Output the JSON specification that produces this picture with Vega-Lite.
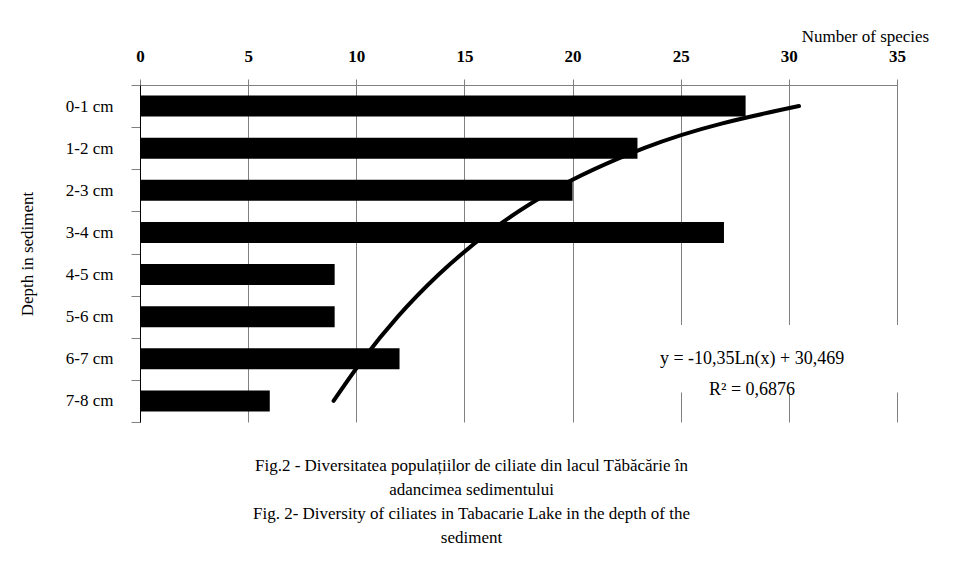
{
  "$schema": "https://vega.github.io/schema/vega-lite/v6.json",
  "width": 757,
  "height": 337,
  "autosize": {"type": "none"},
  "padding": {"left": 140, "top": 85, "right": 62, "bottom": 139},
  "background": "white",
  "config": {"view": {"stroke": null}, "font": "Liberation Serif"},
  "title": {
    "text": [
      "Fig.2 - Diversitatea populațiilor de ciliate din lacul Tăbăcărie în",
      "adancimea sedimentului",
      "Fig. 2- Diversity of ciliates in Tabacarie Lake in the depth of the",
      "sediment"
    ],
    "orient": "bottom",
    "anchor": "middle",
    "dx": -47,
    "offset": 35,
    "font": "Liberation Serif",
    "fontSize": 17,
    "fontWeight": "normal",
    "lineHeight": 24,
    "color": "black"
  },
  "data": {
    "values": [
      {"depth": "0-1 cm", "species": 28, "trend": 30.47},
      {"depth": "1-2 cm", "species": 23, "trend": 23.3},
      {"depth": "2-3 cm", "species": 20, "trend": 19.1},
      {"depth": "3-4 cm", "species": 27, "trend": 16.12},
      {"depth": "4-5 cm", "species": 9, "trend": 13.81},
      {"depth": "5-6 cm", "species": 9, "trend": 11.92},
      {"depth": "6-7 cm", "species": 12, "trend": 10.33},
      {"depth": "7-8 cm", "species": 6, "trend": 8.95}
    ]
  },
  "encoding": {
    "y": {
      "field": "depth",
      "type": "nominal",
      "sort": null,
      "scale": {"paddingInner": 0, "paddingOuter": 0},
      "axis": {
        "tickBand": "extent",
        "tickSize": 9,
        "tickColor": "#808080",
        "domainColor": "black",
        "grid": false,
        "labelFont": "Liberation Serif",
        "labelFontSize": 17,
        "labelPadding": 18,
        "labelColor": "black",
        "title": "Depth in sediment",
        "titleFont": "Liberation Serif",
        "titleX": -113,
        "titleY": 168.5,
        "titleAngle": -90,
        "titleAlign": "center",
        "titleBaseline": "middle",
        "titleFontWeight": "normal",
        "titleFontSize": 17,
        "titleColor": "black"
      }
    }
  },
  "layer": [
    {
      "mark": {"type": "bar", "fill": "black", "height": {"band": 0.5}},
      "encoding": {
        "x": {
          "field": "species",
          "type": "quantitative",
          "scale": {"domain": [0, 35], "nice": false},
          "axis": {
            "orient": "top",
            "values": [0, 5, 10, 15, 20, 25, 30, 35],
            "grid": true,
            "gridColor": "#808080",
            "gridOpacity": 1,
            "tickColor": "#808080",
            "tickSize": 6,
            "domainColor": "#808080",
            "labelFont": "Liberation Serif",
            "labelFontWeight": "bold",
            "labelFontSize": 17,
            "labelColor": "black",
            "labelPadding": 14,
            "labelFlush": false,
            "title": "Number of species",
            "titleFont": "Liberation Serif",
            "titleX": 725,
            "titleY": -49,
            "titleAlign": "center",
            "titleBaseline": "middle",
            "titleFontWeight": "normal",
            "titleFontSize": 17,
            "titleColor": "black"
          }
        }
      }
    },
    {
      "data": {"values": [{}]},
      "mark": {"type": "bar", "fill": "white", "height": {"band": 1.6}},
      "encoding": {
        "x": {"datum": 21},
        "x2": {"datum": 35.3},
        "y": {"datum": "6-7 cm", "type": "nominal"}
      }
    },
    {
      "data": {"values": [{}]},
      "mark": {
        "type": "text",
        "text": ["y = -10,35Ln(x) + 30,469", "R² = 0,6876"],
        "font": "Liberation Serif",
        "fontSize": 18,
        "fontWeight": "normal",
        "lineHeight": 31,
        "align": "center",
        "baseline": "middle",
        "fill": "black"
      },
      "encoding": {
        "x": {"datum": 28.3},
        "y": {"datum": "6-7 cm", "type": "nominal"}
      }
    },
    {
      "mark": {"type": "line", "stroke": "black", "strokeWidth": 4, "interpolate": "monotone", "strokeCap": "round"},
      "encoding": {
        "x": {"field": "trend", "type": "quantitative"},
        "order": {"field": "trend", "type": "quantitative"}
      }
    }
  ]
}
